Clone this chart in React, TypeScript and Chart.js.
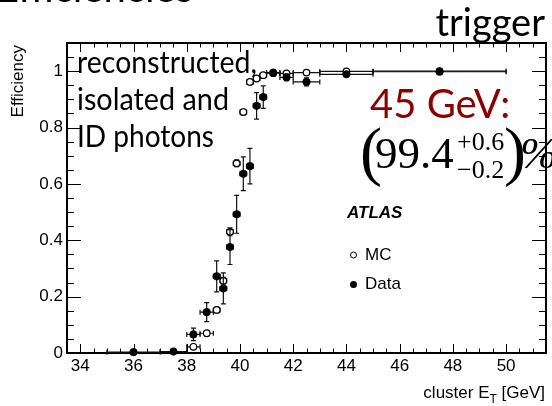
import { useEffect, useRef } from 'react';
import { Chart, registerables } from 'chart.js';
Chart.register(...registerables);

// ---- data ----
const binCenters = [36, 37.5, 38.25, 38.75, 39.125, 39.375, 39.625, 39.875, 40.125, 40.375, 40.625, 40.875, 41.25, 41.75, 42.5, 44, 47.5];
const binHalfWidths = [1, 0.5, 0.25, 0.25, 0.125, 0.125, 0.125, 0.125, 0.125, 0.125, 0.125, 0.125, 0.25, 0.25, 0.5, 1, 2.5];
const dataEff = [0.003, 0.005, 0.066, 0.145, 0.272, 0.229, 0.376, 0.492, 0.636, 0.663, 0.877, 0.908, 0.995, 0.978, 0.962, 0.989, 0.998];
const dataErr = [0.005, 0.005, 0.022, 0.034, 0.055, 0.055, 0.062, 0.067, 0.06, 0.063, 0.047, 0.04, 0.01, 0.012, 0.014, 0.006, 0.004];
const mcEff = [null, null, 0.022, 0.07, 0.153, 0.256, 0.43, 0.673, 0.855, 0.962, 0.974, 0.986, 0.993, 0.992, 0.995, 0.999, 1.0];
const mcErr = [0, 0, 0.005, 0.008, 0.01, 0.012, 0.014, 0.012, 0.01, 0.006, 0.005, 0.004, 0.003, 0.003, 0.003, 0.002, 0.001];

const xTickLabels = [34, 36, 38, 40, 42, 44, 46, 48, 50];
const yTickLabels = [0, 0.2, 0.4, 0.6, 0.8, 1];
const xRange = [33.5, 51.5];
const yRange = [0, 1.1];
const xMinorStep = 0.5;
const yMinorStep = 0.05;

const noteLines = ['reconstructed,', 'isolated and', 'ID photons'];
const legendLabels = ['MC', 'Data'];

const SANS = '"Liberation Sans", Arial, sans-serif';
const SERIF = '"Liberation Serif", "Times New Roman", serif';
const HUMAN = 'Lato, "Open Sans", sans-serif';

function toPoints(vals: (number | null)[], errs: number[]) {
  const pts: any[] = [];
  vals.forEach((v, i) => {
    if (v == null) return;
    pts.push({ x: binCenters[i], y: v, ex: binHalfWidths[i], ey: errs[i] });
  });
  return pts;
}

const framePlugin = {
  id: 'rootFrame',
  beforeDatasetsDraw(chart: any) {
    const { ctx, chartArea: a, scales } = chart;
    const x = scales.x, y = scales.y;
    ctx.save();
    ctx.strokeStyle = '#000';
    ctx.lineWidth = 1;
    const nx = Math.round((xRange[1] - xRange[0]) / xMinorStep);
    for (let k = 0; k <= nx; k++) {
      const v = xRange[0] + k * xMinorStep;
      const px = Math.round(x.getPixelForValue(v)) + 0.5;
      const major = xTickLabels.includes(v);
      const len = major ? 9 : 4.5;
      ctx.beginPath();
      ctx.moveTo(px, a.bottom); ctx.lineTo(px, a.bottom - len);
      ctx.moveTo(px, a.top); ctx.lineTo(px, a.top + len);
      ctx.stroke();
    }
    const ny = Math.round((yRange[1] - yRange[0]) / yMinorStep);
    for (let k = 0; k <= ny; k++) {
      const v = yRange[0] + k * yMinorStep;
      const py = Math.round(y.getPixelForValue(v)) + 0.5;
      const major = k % 4 === 0;
      const len = major ? 14 : 7;
      ctx.beginPath();
      ctx.moveTo(a.left, py); ctx.lineTo(a.left + len, py);
      ctx.moveTo(a.right, py); ctx.lineTo(a.right - len, py);
      ctx.stroke();
    }
    ctx.lineWidth = 2;
    ctx.strokeRect(a.left, a.top, a.right - a.left, a.bottom - a.top);
    ctx.restore();
  },
  beforeDatasetDraw(chart: any, args: any) {
    const { ctx, scales } = chart;
    const x = scales.x, y = scales.y;
    const ds = chart.data.datasets[args.index];
    ctx.save();
    ctx.strokeStyle = '#111';
    ctx.lineWidth = 1.2;
    const cap = 2.5;
    ds.data.forEach((p: any) => {
      const px = x.getPixelForValue(p.x);
      const py = y.getPixelForValue(p.y);
      const x1 = x.getPixelForValue(p.x - p.ex);
      const x2 = x.getPixelForValue(p.x + p.ex);
      const y1 = y.getPixelForValue(p.y - p.ey);
      const y2 = y.getPixelForValue(p.y + p.ey);
      ctx.beginPath();
      ctx.moveTo(x1, py); ctx.lineTo(x2, py);
      ctx.moveTo(x1, py - cap); ctx.lineTo(x1, py + cap);
      ctx.moveTo(x2, py - cap); ctx.lineTo(x2, py + cap);
      if (Math.abs(y1 - y2) > 1) {
        ctx.moveTo(px, y1); ctx.lineTo(px, y2);
        ctx.moveTo(px - cap, y1); ctx.lineTo(px + cap, y1);
        ctx.moveTo(px - cap, y2); ctx.lineTo(px + cap, y2);
      }
      ctx.stroke();
    });
    ctx.restore();
  },
  afterDraw(chart: any) {
    const { ctx } = chart;
    ctx.save();
    ctx.fillStyle = '#000';
    ctx.textAlign = 'right';
    ctx.textBaseline = 'alphabetic';
    // clipped slide title fragments
    ctx.font = `40px ${HUMAN}`;
    ctx.fillText('Efficiencies', 193, 1.5);
    ctx.font = `38px ${HUMAN}`;
    ctx.fillText('trigger', 545, 36);

    // note lines
    ctx.textAlign = 'left';
    ctx.font = `30px ${HUMAN}`;
    const base = [73, 110, 147];
    const maxW = [180, 152, 137];
    noteLines.forEach((t, i) => ctx.fillText(t, 77, base[i], maxW[i]));

    // 45 GeV
    ctx.fillStyle = '#8B0000';
    ctx.font = `40px ${HUMAN}`;
    ctx.fillText('45 GeV:', 370, 118, 148);

    // (99.4 +0.6 -0.2)%
    ctx.fillStyle = '#000';
    ctx.font = `66px ${SERIF}`;
    ctx.fillText('(', 360, 173);
    ctx.font = `45px ${SERIF}`;
    ctx.fillText('99.4', 375, 168);
    ctx.font = `26px ${SERIF}`;
    ctx.fillText('+0.6', 457, 150);
    ctx.fillText('\u22120.2', 457, 178);
    ctx.font = `66px ${SERIF}`;
    ctx.fillText(')', 504, 173);
    ctx.font = `italic 45px ${SERIF}`;
    ctx.fillText('%', 520, 168);

    // ATLAS
    ctx.textBaseline = 'middle';
    ctx.font = `bold italic 17px ${SANS}`;
    ctx.fillText('ATLAS', 347, 213);

    // legend
    ctx.font = `17px ${SANS}`;
    ctx.beginPath();
    ctx.arc(353.5, 255, 3, 0, Math.PI * 2);
    ctx.fillStyle = '#fff'; ctx.fill();
    ctx.strokeStyle = '#000'; ctx.lineWidth = 1; ctx.stroke();
    ctx.fillStyle = '#000';
    ctx.fillText(legendLabels[0], 365, 255);
    ctx.beginPath();
    ctx.arc(353.5, 284.5, 3.5, 0, Math.PI * 2);
    ctx.fill();
    ctx.fillText(legendLabels[1], 365, 284.5);

    // y title
    ctx.save();
    ctx.translate(18, 45);
    ctx.rotate(-Math.PI / 2);
    ctx.textAlign = 'right';
    ctx.textBaseline = 'middle';
    ctx.font = `17px ${SANS}`;
    ctx.fillText('Efficiency', 0, 0);
    ctx.restore();

    // x title: cluster E_T [GeV]
    ctx.textBaseline = 'alphabetic';
    ctx.textAlign = 'left';
    const f = `17px ${SANS}`, fs = `12px ${SANS}`;
    ctx.font = f; const w1 = ctx.measureText('cluster E').width; const w3 = ctx.measureText(' [GeV]').width;
    ctx.font = fs; const w2 = ctx.measureText('T').width;
    let sx = 545 - (w1 + w2 + w3);
    ctx.font = f; ctx.fillText('cluster E', sx, 398); sx += w1;
    ctx.font = fs; ctx.fillText('T', sx, 403); sx += w2;
    ctx.font = f; ctx.fillText(' [GeV]', sx, 398);
    ctx.restore();
  },
};

export default function App() {
  const ref = useRef<HTMLCanvasElement | null>(null);
  useEffect(() => {
    if (!ref.current) return;
    const chart = new Chart(ref.current, {
      type: 'scatter',
      data: {
        datasets: [
          {
            label: 'Data',
            data: toPoints(dataEff, dataErr),
            pointStyle: 'circle',
            pointRadius: 3.8,
            pointBackgroundColor: '#000',
            pointBorderColor: '#000',
            pointBorderWidth: 0.5,
            showLine: false,
            order: 0,
            clip: false,
          } as any,
          {
            label: 'MC',
            data: toPoints(mcEff, mcErr),
            pointStyle: 'circle',
            pointRadius: 3.3,
            pointBackgroundColor: '#fff',
            pointBorderColor: '#000',
            pointBorderWidth: 1.2,
            showLine: false,
            order: 1,
            clip: false,
          } as any,
        ],
      },
      options: {
        animation: false,
        responsive: true,
        maintainAspectRatio: false,
        events: [],
        layout: { padding: { top: 43, right: 6, left: 0, bottom: 0 } },
        plugins: { legend: { display: false }, tooltip: { enabled: false } },
        scales: {
          x: {
            type: 'linear',
            min: xRange[0],
            max: xRange[1],
            afterBuildTicks: (s: any) => { s.ticks = xTickLabels.map((v) => ({ value: v })); },
            afterFit: (s: any) => { s.height = 53; },
            grid: { display: false, drawTicks: false },
            border: { display: false },
            ticks: {
              color: '#000',
              font: { family: SANS, size: 17 },
              padding: 3,
              maxRotation: 0,
              autoSkip: false,
              callback: (v: any) => String(v),
            },
          },
          y: {
            type: 'linear',
            min: yRange[0],
            max: yRange[1],
            afterBuildTicks: (s: any) => { s.ticks = yTickLabels.map((v) => ({ value: v })); },
            afterFit: (s: any) => { s.width = 67; },
            grid: { display: false, drawTicks: false },
            border: { display: false },
            ticks: {
              color: '#000',
              font: { family: SANS, size: 17 },
              padding: 4,
              autoSkip: false,
              callback: (v: any) => String(v),
            },
          },
        },
      },
      plugins: [framePlugin],
    });
    return () => chart.destroy();
  }, []);
  return (
    <div style={{ position: 'fixed', left: 0, top: 0, width: 552, height: 406 }}>
      <canvas ref={ref} />
    </div>
  );
}
